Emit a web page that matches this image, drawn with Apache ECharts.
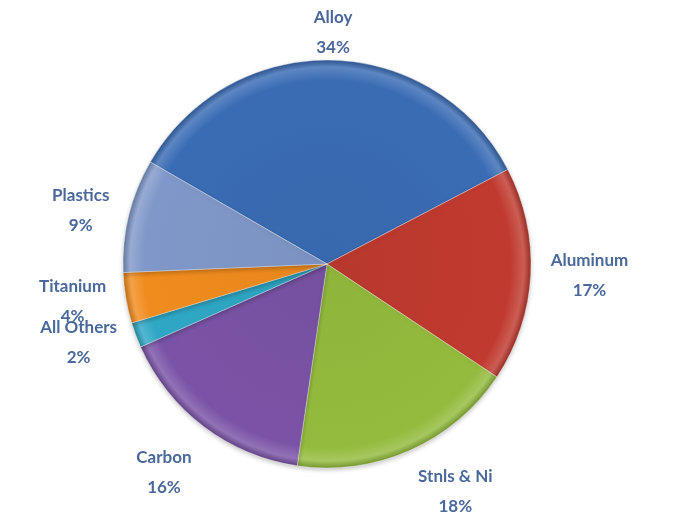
<!DOCTYPE html>
<html>
<head>
<meta charset="utf-8">
<script src="https://cdn.jsdelivr.net/npm/echarts@6/dist/echarts.min.js"></script>
<style>
  html, body { margin: 0; padding: 0; background: #ffffff; }
  #chart { width: 680px; height: 522px; }
</style>
</head>
<body>
<div id="chart"></div>
<script>
// Material share by category (percent), listed clockwise from the top-left edge
const categories = ['Alloy', 'Aluminum', 'Stnls & Ni', 'Carbon', 'All Others', 'Titanium', 'Plastics'];
const shares = [34, 17, 18, 16, 2, 4, 9];
const sliceColors = ['#3a6cb4', '#c03a2f', '#94bb3d', '#7a53a6', '#2fa7c4', '#f08c1e', '#8098c9'];

const W = 680, H = 522;
const CX = 327, CY = 264, R = 204;
const START = 150; // degrees, counter-clockwise from 3 o'clock
const GAP = 20;    // distance of the label anchor beyond the rim

function shade(hex, f) {
  const n = parseInt(hex.slice(1), 16);
  let r = (n >> 16) & 255, g = (n >> 8) & 255, b = n & 255;
  const mix = (c) => f >= 0 ? Math.round(c + (255 - c) * f) : Math.round(c * (1 + f));
  return 'rgb(' + mix(r) + ',' + mix(g) + ',' + mix(b) + ')';
}

// Rim-lit fill: flat body, brighter band near the edge, dark outline
function rimFill(hex) {
  return {
    type: 'radial', x: CX, y: CY, r: R, global: true,
    colorStops: [
      { offset: 0, color: shade(hex, -0.04) },
      { offset: 0.9, color: hex },
      { offset: 0.965, color: shade(hex, 0.18) },
      { offset: 1, color: shade(hex, -0.2) }
    ]
  };
}

const total = shares.reduce((a, b) => a + b, 0);
const midAngles = [];
let acc = 0;
shares.forEach((v) => {
  const a0 = START - acc / total * 360;
  acc += v;
  const a1 = START - acc / total * 360;
  midAngles.push((a0 + a1) / 2 * Math.PI / 180);
});

const clamp = (v, lo, hi) => Math.min(hi, Math.max(lo, v));

const data = categories.map((name, i) => ({
  name: name,
  value: shares[i],
  itemStyle: { color: rimFill(sliceColors[i]) }
}));

const chart = echarts.init(document.getElementById('chart'));
chart.setOption({
  backgroundColor: '#ffffff',
  animation: false,
  series: [{
    type: 'pie',
    center: [CX, CY],
    radius: R,
    startAngle: START,
    clockwise: true,
    avoidLabelOverlap: false,
    data: data,
    itemStyle: {
      borderColor: 'rgba(255,255,255,0.35)',
      borderWidth: 1,
      shadowColor: 'rgba(0,0,0,0.22)',
      shadowBlur: 4,
      shadowOffsetY: 2
    },
    label: {
      show: true,
      position: 'outside',
      formatter: '{b}\n{d}%',
      fontFamily: 'Lato',
      fontWeight: 'bold',
      fontSize: 17,
      lineHeight: 30,
      color: '#4a6899',
      align: 'center'
    },
    labelLine: { show: false },
    // Anchor each label just beyond the rim on its slice's mid-angle; the
    // label box hangs off the anchor by the side/corner facing the pie.
    labelLayout: function (p) {
      const a = midAngles[p.dataIndex];
      const c = Math.cos(a), s = Math.sin(a);
      const w = p.labelRect.width, h = p.labelRect.height;
      const ax = CX + (R + GAP) * c;
      const ay = CY - (R + GAP) * s;
      const tx = clamp(c / 0.3, -1, 1);
      const ty = clamp((Math.abs(s) - 0.4) / 0.3, 0, 1) * (s > 0 ? -1 : 1);
      let x = ax + tx * w / 2;
      let y = ay + ty * h / 2;
      y = clamp(y, h / 2 + 3, H - h / 2);
      return { x: x, y: y, align: 'center', verticalAlign: 'middle' };
    }
  }]
});
</script>
</body>
</html>
